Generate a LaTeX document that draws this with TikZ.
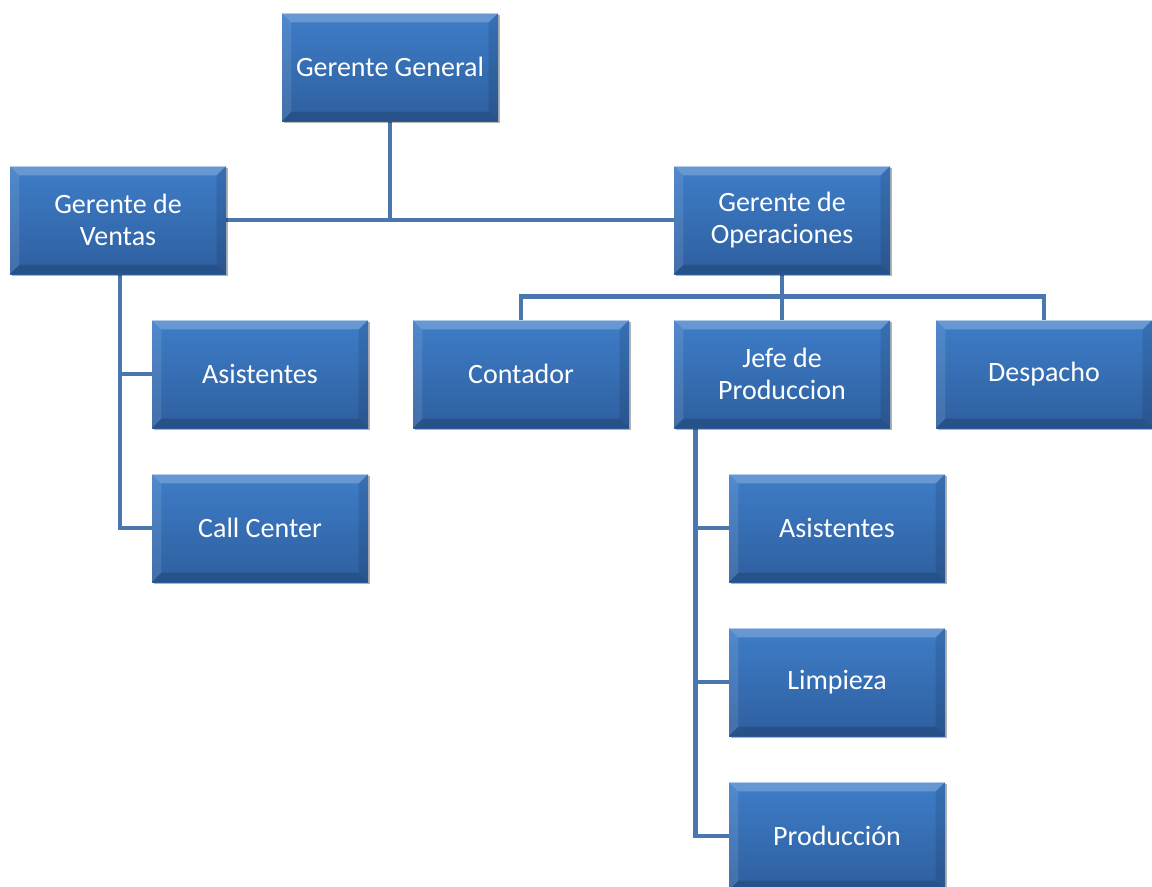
\documentclass[tikz,border=0pt]{standalone}
\usepackage{fontspec}
\setmainfont{Carlito}
\usetikzlibrary{shadows,backgrounds,calc}
\definecolor{boxtop}{HTML}{3E7DC8}
\definecolor{boxbot}{HTML}{2E5F9F}
\definecolor{conncol}{HTML}{4A77AE}
\tikzset{
  orgbox/.style={rectangle, minimum width=162pt, minimum height=81pt, inner sep=0pt,
    top color=boxtop, bottom color=boxbot, text=white, align=center,
    font=\fontsize{21}{24}\selectfont,
    drop shadow={shadow xshift=1.8pt, shadow yshift=-1.8pt, opacity=0.3, fill=black},
    path picture={
      \coordinate (nw) at (path picture bounding box.north west);
      \coordinate (ne) at (path picture bounding box.north east);
      \coordinate (sw) at (path picture bounding box.south west);
      \coordinate (se) at (path picture bounding box.south east);
      \fill[white,opacity=0.22] (nw) -- (ne) -- ($(ne)+(-7pt,-7pt)$) -- ($(nw)+(7pt,-7pt)$) -- cycle;
      \fill[white,opacity=0.1] (nw) -- (sw) -- ($(sw)+(7pt,7pt)$) -- ($(nw)+(7pt,-7pt)$) -- cycle;
      \fill[black,opacity=0.1] (ne) -- (se) -- ($(se)+(-7pt,7pt)$) -- ($(ne)+(-7pt,-7pt)$) -- cycle;
      \fill[black,opacity=0.15] (sw) -- (se) -- ($(se)+(-7pt,7pt)$) -- ($(sw)+(7pt,7pt)$) -- cycle;
      \draw[white,opacity=0.5,line width=0.8pt] (nw) -- (ne);
    }},
  conn/.style={draw=conncol, line width=3.6pt}
}
\begin{document}
\begin{tikzpicture}[x=0.75pt,y=-0.75pt]
\useasboundingbox (0,0) rectangle (1152,886);
\node[orgbox] (gg) at (390,67) {Gerente General};
\node[orgbox] (gv) at (118,220) {Gerente de\\Ventas};
\node[orgbox] (go) at (782,220) {Gerente de\\Operaciones};
\node[orgbox] (as1) at (260,374) {Asistentes};
\node[orgbox] (cc) at (260,528) {Call Center};
\node[orgbox] (ct) at (521,374) {Contador};
\node[orgbox] (jp) at (782,374) {Jefe de\\Produccion};
\node[orgbox] (de) at (1044,374) {Despacho};
\node[orgbox] (as2) at (837,528) {Asistentes};
\node[orgbox] (li) at (837,682) {Limpieza};
\node[orgbox] (pr) at (837,836) {Producción};
\begin{scope}[on background layer]
\draw[conn] (gv.east) -- (go.west);
\draw[conn] (gg.south) -- (gg.south |- gv.east);
\draw[conn] ([xshift=1.5pt]gv.south) |- (cc.west);
\draw[conn] ([xshift=1.5pt]gv.south |- as1.west) -- (as1.west);
\draw[conn] (go.south) -- ++(0,22) coordinate (ob);
\draw[conn] (ct.north) |- (ob) -| (de.north);
\draw[conn] (ob) -- (jp.north);
\draw[conn] ([xshift=16.5pt]jp.south west) |- (pr.west);
\draw[conn] ([xshift=16.5pt]jp.south west |- as2.west) -- (as2.west);
\draw[conn] ([xshift=16.5pt]jp.south west |- li.west) -- (li.west);
\end{scope}
\end{tikzpicture}
\end{document}
